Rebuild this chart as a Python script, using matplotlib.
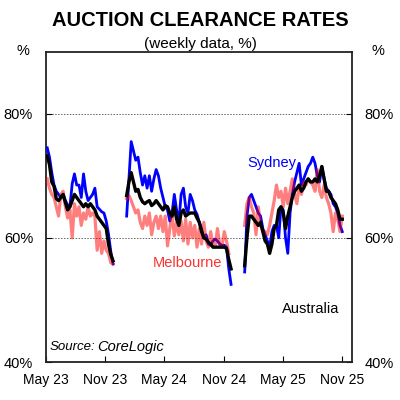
import matplotlib as mpl
mpl.use('Agg')
import matplotlib.pyplot as plt
import matplotlib.dates as mdates
import numpy as np
import pandas as pd

plt.rcParams['font.family'] = ['Liberation Sans', 'DejaVu Sans']

# weekly clearance rates, three selling seasons (gaps over summer break)
season_starts = ['2023-05-06', '2024-01-06', '2025-01-04']

sydney = [
    [74.5, 73, 70.5, 68.5, 67.5, 67, 66.5, 67, 66, 65.3, 65, 68.7, 70.3, 68.5, 68.5,
     66.5, 70.3, 67.5, 66, 66.5, 67, 68, 65, 64.6, 64.2, 64, 62.7, 60.6, 57.8, 55.8],
    [63.5, 69.5, 75.5, 74, 72.5, 73, 70.5, 68.5, 70, 68, 70, 67.5, 69.5, 71, 70, 68,
     66.5, 65, 64.5, 62.7, 64, 67, 64.5, 62.5, 67, 68, 65, 64, 67, 66, 64.5, 63.8, 62.5,
     61.5, 60, 60.5, 59, 58.8, 59.5, 59.8, 59.5, 59, 58.8, 58.8, 58.5, 55, 52.5],
    [54.5, 63.5, 66.5, 67, 66, 65, 64, 63.5, 61.5, 60.5, 59.5, 58.5, 61, 62, 62, 60, 65,
     64.5, 60, 57.5, 64, 67, 69, 70.5, 72, 68.5, 69.5, 70.5, 71.5, 72, 73, 72, 70, 69,
     71.5, 69.5, 68, 67.5, 67, 65.5, 65, 64, 62, 61],
]

melbourne = [
    [69.5, 68, 67, 66.5, 65, 63.5, 67, 67.5, 65, 63.2, 64.5, 60, 65.5, 63.5, 65, 62, 64,
     63, 65, 63.5, 64, 63.5, 58, 61, 57.5, 59.5, 58, 57.5, 56, 55.8],
    [66.3, 66.8, 66, 65, 64, 64.5, 62.5, 61.5, 63.5, 62, 64, 60.5, 62.5, 63.5, 61.5, 63.5,
     61, 63.5, 58.7, 61.5, 63.8, 60.3, 62.5, 60.5, 62.7, 59.5, 63, 59, 62.5, 60, 62, 58.5,
     61.5, 59, 62.5, 59.5, 58.5, 61, 59, 58.5, 61.5, 59, 58.5, 61, 59.5, 57.5, np.nan],
    [62, 65.5, 66.5, 65, 64, 60.5, 65, 62, 61, 61, 60.5, 62, 64, 66, 68.5, 66.5, 67.5, 65,
     68, 65.5, 67.5, 69.5, 67, 65.5, 68.5, 67, 69, 68.5, 69.5, 69, 68.5, 67.5, 71, 67.5,
     66.5, 68.5, 66.5, 65.5, 64, 61, 64, 63, 61, 63.5],
]

australia = [
    [73.2, 71.8, 69, 68.3, 66.3, 66, 66.5, 67, 65.7, 64.5, 65, 66, 67, 66.5, 66, 65.5, 65,
     65.5, 65, 65.5, 65, 64.5, 63.5, 63, 62.5, 62, 61.5, 59, 57.3, 56.3],
    [66.8, 69, 70.5, 69, 67.5, 67.8, 66.5, 65.8, 65.5, 65.8, 66, 65.2, 65.5, 66, 65.5, 65,
     64.5, 65.2, 65, 64, 63.5, 65, 63, 62, 64, 64.5, 63.5, 63.8, 64, 64, 64, 63.2, 62.5,
     61, 60, 59.8, 59.3, 59, 58.5, 58.5, 58.5, 58.5, 58.5, 58.5, 58.3, 56.5, 55],
    [55.5, 60, 63.5, 63.5, 63, 62.5, 62, 62.5, 61, 59.5, 59, 57.5, 59, 61.5, 62, 64.5, 65,
     64, 61.5, 63.5, 65, 66.5, 67.5, 68, 68.5, 67.5, 68, 69, 69.5, 69, 69, 69.5, 69, 70,
     71.5, 69.5, 67.5, 67.5, 66.5, 66, 65.5, 64.5, 63, 63],
]

month_ticks = ['2023-05-01', '2023-11-01', '2024-05-01', '2024-11-01', '2025-05-01', '2025-11-01']
y_ticks = [40, 60, 80]

fig = plt.figure(figsize=(4, 4), dpi=100)
ax = fig.add_axes([0.114, 0.095, 0.766, 0.776])

for i, start in enumerate(season_starts):
    dates = pd.date_range(start, periods=len(sydney[i]), freq='7D')
    ax.plot(dates, sydney[i], color='#0000FF', lw=2.0, zorder=3)
    ax.plot(dates, melbourne[i], color='#FF0000', alpha=0.5, lw=2.3, zorder=4)
    ax.plot(dates, australia[i], color='black', lw=2.4, zorder=5)

ax.set_xlim(pd.Timestamp('2023-05-01'), pd.Timestamp('2025-12-01'))
ax.set_ylim(40, 90)
ax.set_xticks(pd.to_datetime(month_ticks))
ax.xaxis.set_major_formatter(mdates.DateFormatter('%b %y'))
ax.set_yticks(y_ticks)
ax.set_yticklabels(['%d%%' % v for v in y_ticks])
ax.tick_params(axis='x', direction='in', length=4, pad=8, labelsize=10)
ax.tick_params(axis='y', direction='in', length=4, pad=9, labelsize=10.5,
               left=True, right=True, labelleft=True, labelright=True)
for v in [60, 80]:
    ax.axhline(v, color='#666666', ls=(0, (1.5, 1.5)), lw=0.7, zorder=1)
for s in ax.spines.values():
    s.set_linewidth(1.3)
    s.set_color('#222222')

fig.text(0.5, 0.948, 'AUCTION CLEARANCE RATES', ha='center', va='center',
         fontsize=14.5, fontweight='bold')
fig.text(0.5, 0.89, '(weekly data, %)', ha='center', va='center', fontsize=11)
fig.text(0.057, 0.873, '%', ha='center', va='center', fontsize=10.5)
fig.text(0.945, 0.873, '%', ha='center', va='center', fontsize=10.5)

ax.text(0.739, 0.641, 'Sydney', color='#0000FF', transform=ax.transAxes,
        ha='center', va='center', fontsize=10.5)
ax.text(0.463, 0.319, 'Melbourne', color='#FF3333', transform=ax.transAxes,
        ha='center', va='center', fontsize=10.5)
ax.text(0.866, 0.171, 'Australia', color='black', transform=ax.transAxes,
        ha='center', va='center', fontsize=10.5)
ax.text(0.014, 0.048, 'Source:', style='italic', transform=ax.transAxes,
        ha='left', va='center', fontsize=9.5)
ax.text(0.1675, 0.048, 'CoreLogic', style='italic', transform=ax.transAxes,
        ha='left', va='center', fontsize=10.5)

plt.savefig('out.png', dpi=100)
plt.close()
